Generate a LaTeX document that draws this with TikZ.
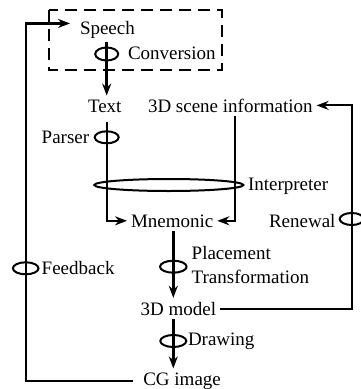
\documentclass[tikz,border=0pt]{standalone}
\usepackage{fontspec}
\setmainfont{Liberation Serif}
\usetikzlibrary{arrows.meta,positioning,calc}

\begin{document}
\begin{tikzpicture}[x=1pt,y=-1pt,
    txt/.style={inner sep=4pt,outer sep=0pt,anchor=base west},
    flow/.style={line width=3pt,-{Stealth[length=12pt,width=9pt]}},
    link/.style={line width=2pt,-{Stealth[length=12pt,width=9pt]}},
    ring/.style={line width=2pt},
    dashedbox/.style={line width=2pt,dash pattern=on 12pt off 7pt}]
    \useasboundingbox (0,0) rectangle (360,389);
    \fontsize{19}{24.5}\selectfont

    % Text nodes
    \node[txt] (speech) at (76,34) {Speech};
    \node[txt] (text) at (84,112) {Text};
    \node[txt] (scene) at (144,112) {3D scene information};
    \node[txt] (mnem) at (127,227) {Mnemonic};
    \node[txt] (model) at (136.7,315) {3D model};
    \node[txt] (cg) at (139.3,385) {CG image};

    % Labels
    \node[txt] (conv) at (124,59) {Conversion};
    \node[txt] (parser) at (37.7,143) {Parser};
    \node[txt] (interp) at (244,190) {Interpreter};
    \node[txt] (renewal) at (265,227) {Renewal};
    \node[txt,anchor=west,align=left] (place) at (187.7,265) {Placement\\Transformation};
    \node[txt] (feedback) at (37.7,274) {Feedback};
    \node[txt] (drawing) at (184,345) {Drawing};

    % Rings
    \coordinate (convring) at (106.7,54);
    \coordinate (parserring) at (106.7,137.3);
    \coordinate (interpring) at (168.8,185);
    \coordinate (renewring) at (351.7,219);
    \coordinate (placering) at (173.3,266.7);
    \coordinate (drawring) at (173.3,341);
    \coordinate (feedring) at (25.7,268.3);

    % Speech box
    \draw[dashedbox] (49,10) rectangle (221.7,70);

    % Connectors
    \draw[flow] (speech.south -| convring) -- (text.north -| convring);
    \draw[link,shorten <=6pt] (text.south -| parserring) |- (mnem.west);
    \draw[link] ([xshift=5pt]scene.south) |- (mnem.east);
    \draw[flow] (mnem.south -| placering) -- (model.north -| placering);
    \draw[flow] (model.south -| drawring) -- (cg.north -| drawring);
    \draw[link] (model.east) -| (renewring) |- (scene.east);
    \draw[link,line width=2.2pt,shorten <=6pt,shorten >=6pt] (cg.west) -| (feedring) |- ([yshift=6pt]speech.west);

    \draw[ring] (convring) ellipse [x radius=11.5pt,y radius=6.5pt];
    \draw[ring] (parserring) ellipse [x radius=12pt,y radius=6pt];
    \draw[ring] (interpring) ellipse [x radius=74.5pt,y radius=6pt];
    \draw[ring] (renewring) ellipse [x radius=12pt,y radius=6pt];
    \draw[ring] (placering) ellipse [x radius=13.3pt,y radius=6pt];
    \draw[ring] (drawring) ellipse [x radius=13pt,y radius=6pt];
    \draw[ring] (feedring) ellipse [x radius=12.8pt,y radius=6pt];
\end{tikzpicture}
\end{document}
